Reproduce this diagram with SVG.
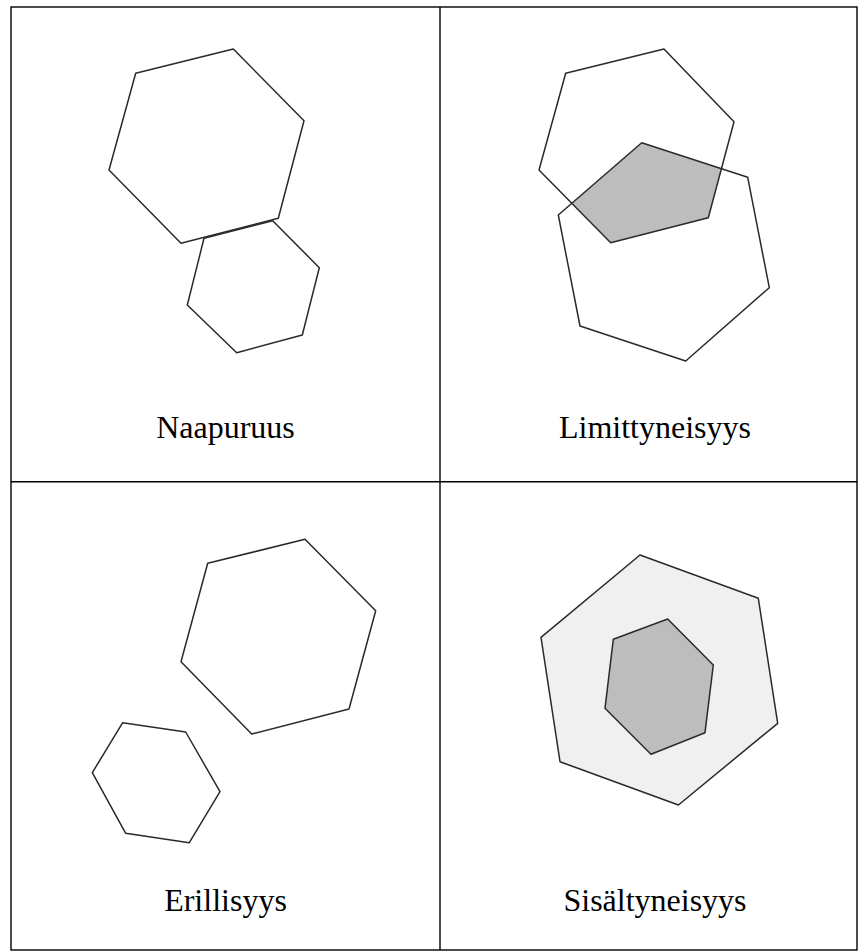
<svg xmlns="http://www.w3.org/2000/svg" width="859" height="952" viewBox="0 0 859 952">
  <style>
    .grid { fill: none; stroke: #000; stroke-width: 1.4; }
    .hex { stroke: #2a2a2a; stroke-width: 1.5; stroke-linejoin: round; }
    .open { fill: none; }
    .light { fill: #f0f0f0; }
    .mid { fill: #bdbdbd; }
    .label { font-family: "Liberation Serif", "Times New Roman", serif; font-size: 32px; fill: #000; text-anchor: middle; }
  </style>
  <defs>
    <clipPath id="clipTop">
      <polygon points="664,49 734,121.7 708.3,217.7 610.7,242.7 539,170 565.7,73.3"/>
    </clipPath>
  </defs>
  <rect width="859" height="952" fill="#fff"/>
  <g id="table">
    <rect class="grid" x="11" y="7" width="846" height="943"/>
    <line class="grid" x1="440" y1="7" x2="440" y2="950"/>
    <line class="grid" x1="11" y1="481.7" x2="857" y2="481.7"/>
  </g>
  <g id="naapuruus">
    <polygon class="hex open" points="233.3,49 304,120.7 278.3,218.3 181,243.3 109,170 135.7,73.3"/>
    <polygon class="hex open" points="272.7,220.7 319.3,267.7 302.3,335 236.7,352.7 187.3,305 204,238.3"/>
    <text class="label" x="225.5" y="438">Naapuruus</text>
  </g>
  <g id="limittyneisyys">
    <polygon class="mid" points="641.7,142.7 747.7,177.3 769.3,287.7 685.7,361 580,326 558.3,215" clip-path="url(#clipTop)"/>
    <polygon class="hex open" points="664,49 734,121.7 708.3,217.7 610.7,242.7 539,170 565.7,73.3"/>
    <polygon class="hex open" points="641.7,142.7 747.7,177.3 769.3,287.7 685.7,361 580,326 558.3,215"/>
    <text class="label" x="655" y="438">Limittyneisyys</text>
  </g>
  <g id="erillisyys">
    <polygon class="hex open" points="305,539.3 375.7,610.7 349,709 251.7,734 181,661.7 207.7,563.3"/>
    <polygon class="hex open" points="122.7,722.7 185.7,732 220,791.7 189.3,842.7 125.7,833.3 92.3,772.7"/>
    <text class="label" x="225.5" y="911">Erillisyys</text>
  </g>
  <g id="sisaltyneisyys">
    <polygon class="hex light" points="640,555 758.3,598.3 777.7,723.3 678.4,805 560,761.7 541,637.3"/>
    <polygon class="hex mid" points="667.7,619 713.3,665 705,732.7 651,754.3 605,708.3 613.3,639.3"/>
    <text class="label" x="655" y="911">Sisältyneisyys</text>
  </g>
</svg>
